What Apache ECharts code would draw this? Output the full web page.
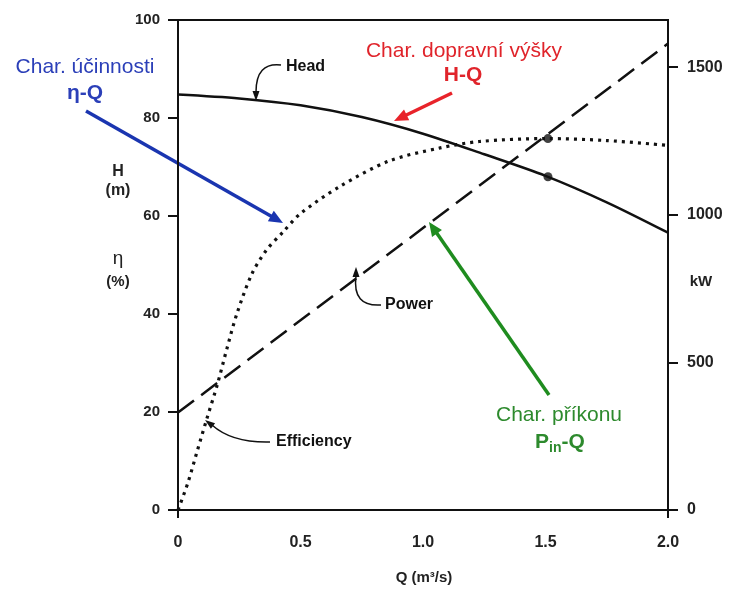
<!DOCTYPE html>
<html>
<head>
<meta charset="utf-8">
<script src="https://cdn.jsdelivr.net/npm/echarts@6/dist/echarts.min.js"></script>
<style>html,body{margin:0;padding:0;background:#fff}#c{width:729px;height:590px}</style>
</head>
<body>
<div id="c"></div>
<script>
// ---- data ----
var headQ = [0, 0.25, 0.5, 0.75, 1.0, 1.25, 1.5, 1.75, 2.0];
var headH = [84.8, 84.0, 82.6, 80.2, 76.8, 72.6, 68.2, 62.8, 56.6];
var effQ = [0, 0.04, 0.08, 0.12, 0.16, 0.2, 0.24, 0.3, 0.36, 0.43, 0.5, 0.66, 0.86, 1.07, 1.23, 1.5, 1.75, 2.0];
var effEta = [0, 5.5, 12.3, 19, 25.5, 33, 40, 48, 53, 56.8, 60.5, 66, 71.2, 73.9, 75.2, 75.8, 75.4, 74.4];
var powQ = [0, 1.0, 2.0];
var powKW = [330, 955, 1580];
var bepQ = [1.51];
var bepH = [68.0];
var bepEta = [75.8];
var xTicks = [0, 0.5, 1.0, 1.5, 2.0];
var leftTicks = [0, 20, 40, 60, 80, 100];
var rightTicks = [0, 500, 1000, 1500];

function pairs(a, b) { return a.map(function (v, i) { return [v, b[i]]; }); }

var FONT = '"Liberation Sans", Arial, sans-serif';

function arrow(x1, y1, x2, y2, color, w, hl, hw) {
  var dx = x2 - x1, dy = y2 - y1, L = Math.sqrt(dx * dx + dy * dy);
  var ux = dx / L, uy = dy / L;
  var bx = x2 - ux * hl, by = y2 - uy * hl;
  return [
    { type: 'line', shape: { x1: x1, y1: y1, x2: bx + ux * 2, y2: by + uy * 2 }, style: { stroke: color, lineWidth: w } },
    { type: 'polygon', shape: { points: [[x2, y2], [bx - uy * hw, by + ux * hw], [bx + uy * hw, by - ux * hw]] }, style: { fill: color } }
  ];
}
function head(x2, y2, ux, uy, color, hl, hw) {
  var bx = x2 - ux * hl, by = y2 - uy * hl;
  return { type: 'polygon', shape: { points: [[x2, y2], [bx - uy * hw, by + ux * hw], [bx + uy * hw, by - ux * hw]] }, style: { fill: color } };
}
function txt(x, y, s, size, color, weight, align) {
  return { type: 'text', x: x, y: y, style: { text: s, fontSize: size, fill: color, fontWeight: weight || 'normal', fontFamily: FONT, align: align || 'center', verticalAlign: 'middle' } };
}

var graphics = [];
// axis titles
graphics.push(txt(118, 172, 'H', 16, '#222', 'bold'));
graphics.push(txt(118, 191, '(m)', 16, '#222', 'bold'));
graphics.push(txt(118, 259, 'η', 19, '#222', 'normal'));
graphics.push(txt(118, 282, '(%)', 15, '#222', 'bold'));
graphics.push(txt(701, 282, 'kW', 15, '#222', 'bold'));
graphics.push(txt(424, 578, 'Q (m³/s)', 15, '#222', 'bold'));
// black labels with curved leaders
graphics.push(txt(286, 67, 'Head', 16, '#111', 'bold', 'left'));
graphics.push({ type: 'bezierCurve', shape: { x1: 281, y1: 65, x2: 256, y2: 92, cpx1: 256, cpy1: 62 }, style: { stroke: '#111', lineWidth: 1.5, fill: null } });
graphics.push(head(256, 101, 0, 1, '#111', 10, 3.5));
graphics.push(txt(385, 305, 'Power', 16, '#111', 'bold', 'left'));
graphics.push({ type: 'bezierCurve', shape: { x1: 381, y1: 305, x2: 356, y2: 276, cpx1: 352, cpy1: 307 }, style: { stroke: '#111', lineWidth: 1.5, fill: null } });
graphics.push(head(356, 267, 0, -1, '#111', 10, 3.5));
graphics.push(txt(276, 442, 'Efficiency', 16, '#111', 'bold', 'left'));
graphics.push({ type: 'bezierCurve', shape: { x1: 270, y1: 442, x2: 212, y2: 425, cpx1: 232, cpy1: 443 }, style: { stroke: '#111', lineWidth: 1.5, fill: null } });
graphics.push(head(205, 420, -0.8, -0.6, '#111', 10, 3.5));
// colored annotations
graphics.push(txt(85, 67, 'Char. účinnosti', 21, '#2b3fb8', 'normal'));
graphics.push(txt(85, 93, 'η-Q', 21, '#2b3fb8', 'bold'));
graphics = graphics.concat(arrow(86, 111, 283, 223, '#1a35b0', 3.5, 14, 6));
graphics.push(txt(464, 51, 'Char. dopravní výšky', 21, '#e0242b', 'normal'));
graphics.push(txt(463, 75, 'H-Q', 21, '#e0242b', 'bold'));
graphics = graphics.concat(arrow(452, 93, 394, 121, '#e8232a', 3.5, 14, 6));
graphics.push(txt(559, 415, 'Char. příkonu', 21, '#2d8a2d', 'normal'));
graphics.push({ type: 'text', x: 560, y: 442, style: { text: '{b|P}{s|in}{b|-Q}', align: 'center', verticalAlign: 'middle', fontFamily: FONT,
  rich: { b: { fontSize: 21, fontWeight: 'bold', fill: '#2d8a2d', fontFamily: FONT }, s: { fontSize: 14, fontWeight: 'bold', fill: '#2d8a2d', fontFamily: FONT, padding: [12, 0, 0, 0] } } } });
graphics = graphics.concat(arrow(549, 395, 429, 222, '#1f8c1f', 3.5, 14, 6));

var chart = echarts.init(document.getElementById('c'), null, { renderer: 'canvas' });
function lab(size) { return { fontFamily: FONT, fontWeight: 'bold', fontSize: size, color: '#222' }; }
chart.setOption({
  animation: false,
  backgroundColor: '#fff',
  grid: { left: 178, right: 61, top: 20, bottom: 80, show: true, borderColor: '#111', borderWidth: 2, backgroundColor: 'transparent' },
  xAxis: {
    type: 'value', min: 0, max: 2, interval: 0.5,
    axisLine: { show: true, onZero: false, lineStyle: { color: '#111', width: 2 } },
    axisTick: { show: true, length: 8, customValues: [0, 2], lineStyle: { color: '#111', width: 2 } },
    splitLine: { show: false },
    axisLabel: Object.assign({ margin: 25, formatter: function (v) { return v === 0 ? '0' : v.toFixed(1); }, customValues: xTicks }, lab(16))
  },
  yAxis: [{
    type: 'value', min: 0, max: 100, interval: 20, position: 'left',
    axisLine: { show: true, lineStyle: { color: '#111', width: 2 } },
    axisTick: { show: true, length: 10, lineStyle: { color: '#111', width: 2 } },
    splitLine: { show: false },
    axisLabel: Object.assign({ margin: 18, customValues: leftTicks }, lab(15))
  }, {
    type: 'value', min: 0, max: 1660, position: 'right',
    axisLine: { show: true, lineStyle: { color: '#111', width: 2 } },
    axisTick: { show: true, length: 10, customValues: rightTicks, lineStyle: { color: '#111', width: 2 } },
    splitLine: { show: false },
    axisLabel: Object.assign({ margin: 19, customValues: rightTicks, formatter: function (v) { return String(v); } }, lab(16))
  }],
  series: [{
    name: 'Head', type: 'line', yAxisIndex: 0, data: pairs(headQ, headH), smooth: 0.3, showSymbol: false,
    lineStyle: { color: '#111', width: 2.5 }, z: 3
  }, {
    name: 'Efficiency', type: 'line', yAxisIndex: 0, data: pairs(effQ, effEta), smooth: 0.3, showSymbol: false,
    lineStyle: { color: '#111', width: 3.2, type: [3, 5], cap: 'butt' }, z: 3
  }, {
    name: 'Power', type: 'line', yAxisIndex: 1, data: pairs(powQ, powKW), showSymbol: false,
    lineStyle: { color: '#111', width: 2.5, type: [20, 9] }, z: 3
  }, {
    name: 'BEP-H', type: 'scatter', yAxisIndex: 0, data: pairs(bepQ, bepH), symbolSize: 9, itemStyle: { color: '#111' }, z: 4
  }, {
    name: 'BEP-eta', type: 'scatter', yAxisIndex: 0, data: pairs(bepQ, bepEta), symbolSize: 9, itemStyle: { color: '#111' }, z: 4
  }],
  graphic: graphics
});
</script>
</body>
</html>
